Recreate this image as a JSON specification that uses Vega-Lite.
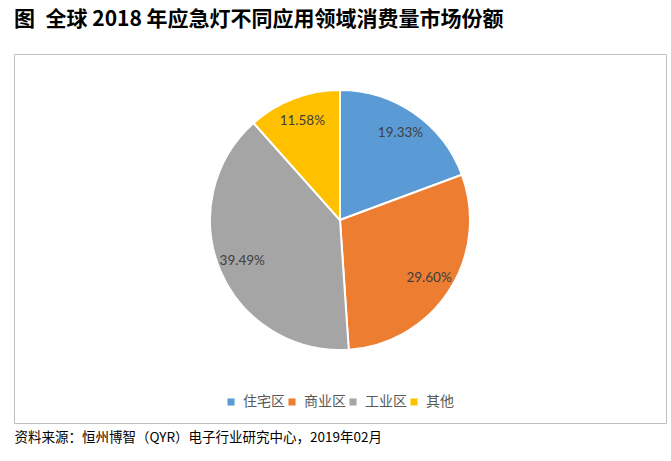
{
  "$schema": "https://vega.github.io/schema/vega-lite/v6.json",
  "width": 652,
  "height": 369,
  "autosize": "none",
  "padding": {"left": 14, "top": 54, "right": 5, "bottom": 38},
  "background": "white",
  "config": {"view": {"stroke": "#bfbfbf", "strokeWidth": 1}},
  "title": {
    "text": "图\u2002全球 2018 年应急灯不同应用领域消费量市场份额",
    "anchor": "start",
    "frame": "group",
    "font": "Noto Sans CJK SC",
    "fontSize": 21,
    "fontWeight": "bold",
    "color": "#000000",
    "offset": 24
  },
  "data": {
    "values": [
      {"cat": "住宅区", "share": 0.1933, "idx": 1},
      {"cat": "商业区", "share": 0.2960, "idx": 2},
      {"cat": "工业区", "share": 0.3949, "idx": 3},
      {"cat": "其他", "share": 0.1158, "idx": 4}
    ]
  },
  "encoding": {
    "theta": {"field": "share", "type": "quantitative", "stack": true},
    "order": {"field": "idx", "type": "quantitative"},
    "x": {
      "datum": 0.5,
      "type": "quantitative",
      "scale": {"domain": [0, 1]},
      "axis": {
        "title": "资料来源：恒州博智（QYR）电子行业研究中心，2019年02月",
        "labels": false,
        "ticks": false,
        "domain": false,
        "grid": false,
        "titleAnchor": "start",
        "titleAlign": "left",
        "titleFont": "Noto Sans CJK SC",
        "titleFontSize": 13.5,
        "titleFontWeight": "normal",
        "titleColor": "#000000",
        "titlePadding": 7
      }
    },
    "y": {
      "datum": 0.55,
      "type": "quantitative",
      "scale": {"domain": [0, 1]},
      "axis": null
    }
  },
  "layer": [
    {
      "mark": {"type": "arc", "outerRadius": 130, "stroke": "white", "strokeWidth": 2},
      "encoding": {
        "color": {
          "field": "cat",
          "type": "nominal",
          "scale": {
            "domain": ["住宅区", "商业区", "工业区", "其他"],
            "range": ["#5B9BD5", "#ED7D31", "#A5A5A5", "#FFC000"]
          },
          "legend": {
            "orient": "none",
            "legendX": 210,
            "legendY": 341,
            "direction": "horizontal",
            "title": null,
            "symbolType": "square",
            "symbolSize": 50,
            "symbolStrokeWidth": 0,
            "labelFont": "Noto Sans CJK SC",
            "labelFontSize": 14,
            "labelColor": "#595959",
            "columnPadding": 0,
            "labelOffset": 5
          }
        }
      }
    },
    {
      "mark": {"type": "text", "radius": 106, "font": "Lato", "fontSize": 13.5, "color": "#404040"},
      "encoding": {
        "detail": {"field": "cat", "type": "nominal"},
        "text": {"field": "share", "type": "quantitative", "format": ".2%"}
      }
    }
  ]
}
